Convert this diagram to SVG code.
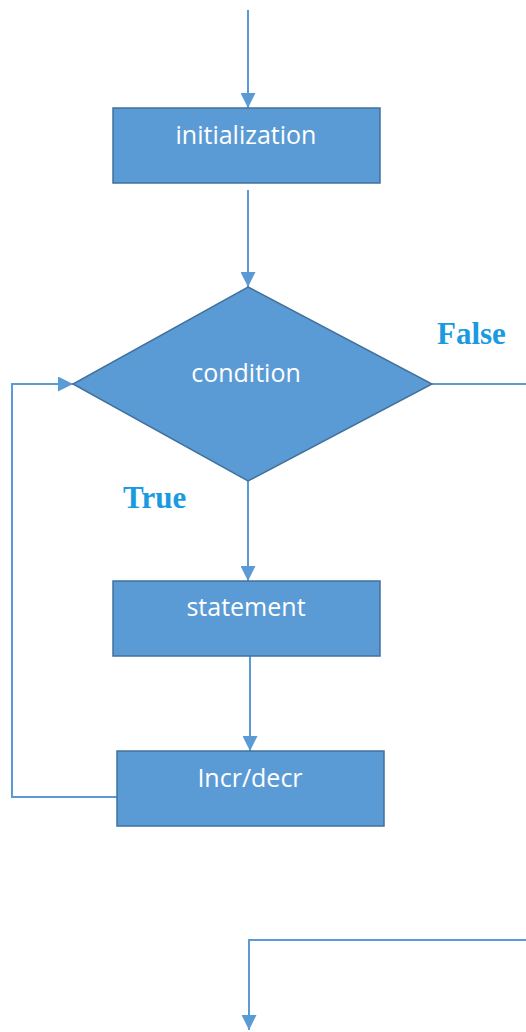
<svg xmlns="http://www.w3.org/2000/svg" width="526" height="1032" viewBox="0 0 526 1032">
<style>
.box{fill:#5b9bd5;stroke:#41719c;stroke-width:1.5}
.lbl{fill:#ffffff;font-family:"Open Sans","Liberation Sans",sans-serif;font-size:25px;text-anchor:middle}
.conn{fill:none;stroke:#5b9bd5;stroke-width:2}
.tf{fill:#1a9be0;font-family:"Liberation Serif",serif;font-weight:bold;font-size:31px}
</style>
<defs>
<marker id="ah" viewBox="0 0 10 10" refX="10" refY="5" markerWidth="7.5" markerHeight="7.5" markerUnits="strokeWidth" orient="auto">
<path d="M0,0 L10,5 L0,10 z" fill="#5b9bd5"/>
</marker>
</defs>
<g id="connectors">
<path class="conn" d="M248,10 V108" marker-end="url(#ah)"/>
<path class="conn" d="M248,190 V287" marker-end="url(#ah)"/>
<path class="conn" d="M248,481 V581" marker-end="url(#ah)"/>
<path class="conn" d="M250,656 V751" marker-end="url(#ah)"/>
<path class="conn" d="M118,797 H12 V384 H73" marker-end="url(#ah)"/>
<path class="conn" d="M432,384 H526"/>
<path class="conn" d="M526,940 H249 V1030" marker-end="url(#ah)"/>
</g>
<g id="init">
<rect class="box" x="113" y="108" width="267" height="75"/>
<text class="lbl" x="246" y="144">initialization</text>
</g>
<g id="condition">
<polygon class="box" points="248,287 432,384 248,481 73,384"/>
<text class="lbl" x="246" y="382">condition</text>
</g>
<g id="statement">
<rect class="box" x="113" y="581" width="267" height="75"/>
<text class="lbl" x="246" y="616">statement</text>
</g>
<g id="incr">
<rect class="box" x="117" y="751" width="267" height="75"/>
<text class="lbl" x="250" y="787">Incr/decr</text>
</g>
<g id="labels">
<text class="tf" x="437" y="344">False</text>
<text class="tf" x="123" y="508">True</text>
</g>
</svg>
